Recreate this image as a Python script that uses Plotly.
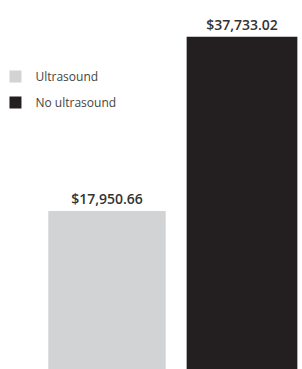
import plotly.graph_objects as go

categories = ["Ultrasound", "No ultrasound"]
values = [17950.66, 37733.02]
labels = ["$17,950.66", "$37,733.02"]
colors = ["#d1d3d4", "#231f20"]
bar_widths = [0.87, 0.82]

fig = go.Figure()
for c, v, t, col, w in zip(categories, values, labels, colors, bar_widths):
    fig.add_trace(go.Bar(
        x=[c], y=[v], name=c, text=[t], textposition="outside",
        marker=dict(color=col, line=dict(width=0)), width=w,
        legendgroup=c, cliponaxis=False,
        textfont=dict(family="Open Sans", size=14, color="#333333", weight=600),
    ))

fig.update_layout(
    width=302, height=369,
    margin=dict(l=0, r=0, t=0, b=0, autoexpand=False),
    paper_bgcolor="white", plot_bgcolor="white",
    barmode="overlay",
    showlegend=True,
    legend=dict(
        x=-0.015, y=1 - 62 / 369,
        xanchor="left", yanchor="top",
        font=dict(family="Open Sans", size=12, color="#444444"),
        tracegroupgap=7, traceorder="grouped", itemsizing="constant",
        itemwidth=30,
        bgcolor="rgba(0,0,0,0)",
    ),
    xaxis=dict(visible=False, range=[-0.7926, 1.4444]),
    yaxis=dict(visible=False, range=[0, 41900]),
)
fig.write_html("out.html", config={"displayModeBar": False},
               post_script="document.body.style.margin='0';")
